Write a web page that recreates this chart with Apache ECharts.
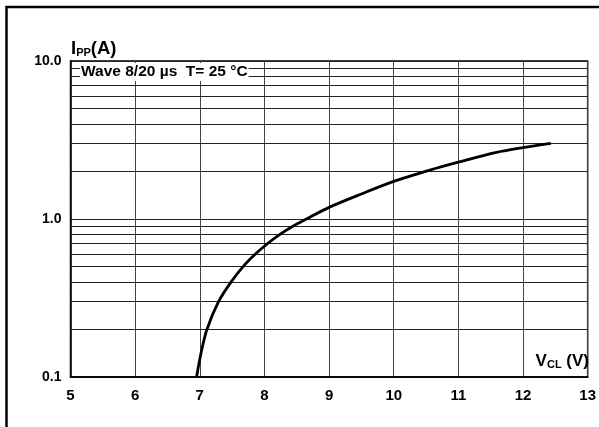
<!DOCTYPE html>
<html>
<head>
<meta charset="utf-8">
<script src="https://cdn.jsdelivr.net/npm/echarts@6/dist/echarts.min.js"></script>
<style>
html,body{margin:0;padding:0;background:#fff;}
#c{width:599px;height:427px;}
</style>
</head>
<body>
<div id="c"></div>
<script>
// Data
var vcl = [6.95, 7.02, 7.11, 7.29, 7.485, 7.67, 7.86, 8.05, 8.24, 8.44, 8.65, 9.00, 9.50, 10.00, 10.56, 11.00, 11.59, 12.00, 12.43];
var ipp = [0.1, 0.1425, 0.2, 0.3, 0.4, 0.5, 0.6, 0.7, 0.8, 0.9, 1.0, 1.185, 1.44, 1.73, 2.04, 2.29, 2.64, 2.83, 3.01];
var minorGrid = [0.2, 0.3, 0.4, 0.5, 0.6, 0.7, 0.8, 0.9, 2, 3, 4, 5, 6, 7, 8, 9];
var xTicks = [5, 6, 7, 8, 9, 10, 11, 12, 13];
var yTicks = [0.1, 1, 10];
var annotation = 'Wave 8/20 µs  T= 25 °C';

var FONT = '"Liberation Sans", Arial, Helvetica, sans-serif';
var chart = echarts.init(document.getElementById('c'), null, {renderer: 'canvas'});
var pts = vcl.map(function (v, i) { return [v, ipp[i]]; });

chart.setOption({
  animation: false,
  backgroundColor: '#fff',
  grid: {left: 70.5, right: 8, top: 61, bottom: 50, show: true, borderColor: '#000', borderWidth: 1.5, backgroundColor: 'transparent'},
  xAxis: {
    type: 'value', min: xTicks[0], max: xTicks[xTicks.length - 1], interval: 1,
    axisLine: {show: true, lineStyle: {color: '#000', width: 1.5}},
    axisTick: {show: false},
    axisLabel: {color: '#000', fontFamily: FONT, fontWeight: 'bold', fontSize: 15, margin: 11,
      formatter: function (v) { return xTicks.indexOf(v) >= 0 ? String(v) : ''; }},
    splitLine: {show: true, lineStyle: {color: '#444', width: 1}}
  },
  yAxis: {
    type: 'log', logBase: 10, min: yTicks[0], max: yTicks[yTicks.length - 1],
    axisLine: {show: true, lineStyle: {color: '#000', width: 1.5}},
    axisTick: {show: false},
    axisLabel: {color: '#000', fontFamily: FONT, fontWeight: 'bold', fontSize: 14, margin: 9,
      formatter: function (v) { return Number(v).toFixed(1); }},
    splitLine: {show: true, lineStyle: {color: '#222', width: 1}}
  },
  series: [{
    type: 'line',
    data: pts,
    smooth: 0.3,
    symbol: 'none',
    lineStyle: {color: '#000', width: 2.8},
    z: 5,
    markLine: {
      silent: true,
      symbol: ['none', 'none'],
      label: {show: false},
      lineStyle: {type: 'solid', color: '#222', width: 1},
      emphasis: {disabled: true},
      data: minorGrid.map(function (v) { return {yAxis: v}; })
    }
  }],
  graphic: [
    {type: 'rect', z: 100, silent: true, shape: {x: 6.5, y: 7, width: 700, height: 600},
      style: {fill: 'none', stroke: '#000', lineWidth: 2.5}},
    {type: 'text', z: 100, left: 80, top: 63, silent: true,
      style: {text: annotation, font: 'bold 15.5px ' + FONT, fill: '#000', backgroundColor: '#fff', padding: [1, 1, 1, 1]}},
    {type: 'text', z: 100, left: 71, top: 39, silent: true,
      style: {
        text: '{m|I}{s|PP}{m|(A)}',
        rich: {
          m: {fontFamily: FONT, fontWeight: 'bold', fontSize: 18.5, lineHeight: 18, fill: '#000', verticalAlign: 'bottom'},
          s: {fontFamily: FONT, fontWeight: 'bold', fontSize: 11, lineHeight: 7, fill: '#000', verticalAlign: 'bottom'}
        }
      }},
    {type: 'text', z: 100, right: 10, top: 353, silent: true,
      style: {
        text: '{m|V}{s|CL}{m| (V)}',
        rich: {
          m: {fontFamily: FONT, fontWeight: 'bold', fontSize: 17, lineHeight: 17, fill: '#000', verticalAlign: 'bottom'},
          s: {fontFamily: FONT, fontWeight: 'bold', fontSize: 11, lineHeight: 7, fill: '#000', verticalAlign: 'bottom'}
        }
      }}
  ]
});
</script>
</body>
</html>
